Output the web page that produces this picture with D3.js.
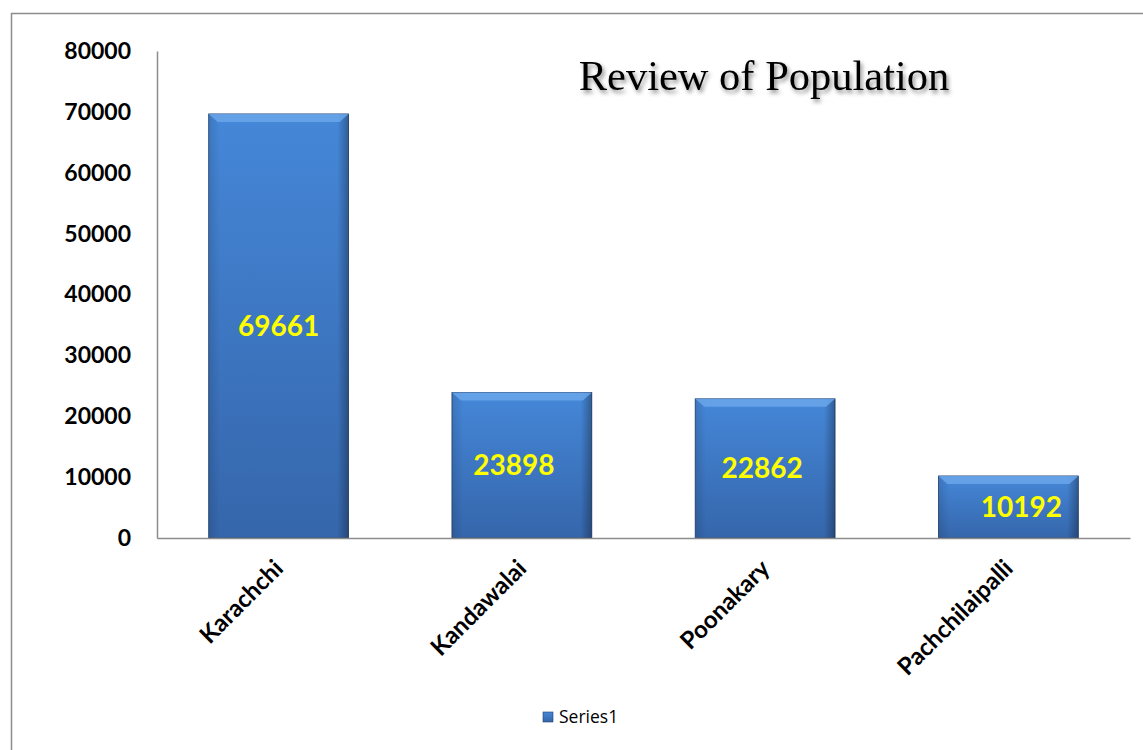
<!DOCTYPE html>
<html>
<head>
<meta charset="utf-8">
<script src="https://cdn.jsdelivr.net/npm/d3@7"></script>
<style>
  body { margin: 0; background: #fff; }
  .y.axis text, .x.axis text { font-family: Lato, "Open Sans", sans-serif; font-weight: bold; fill: #000; }
  .domain { stroke: #8c8c8c; }
</style>
</head>
<body>
<div id="chart"></div>
<script>
const categories = ['Karachchi', 'Kandawalai', 'Poonakary', 'Pachchilaipalli'];
const population = [69661, 23898, 22862, 10192];
const yTicks = [0, 10000, 20000, 30000, 40000, 50000, 60000, 70000, 80000];
const labelShift = [0, -8, -3, 13]; // data labels are not quite centred in the original

const W = 1143;
const H = 750;

const margin = { top: 51, right: 13, bottom: 212, left: 157 };
const w = W - margin.left - margin.right;
const h = H - margin.top - margin.bottom;

const svg = d3.select('#chart')
  .append('svg')
  .attr('width', W)
  .attr('height', H);

const defs = svg.append('defs');

const grad = defs.append('linearGradient')
  .attr('id', 'barFill')
  .attr('x1', 0).attr('y1', 0).attr('x2', 0).attr('y2', 1);
grad.append('stop').attr('offset', '0%').attr('stop-color', '#4587d8');
grad.append('stop').attr('offset', '100%').attr('stop-color', '#3566ab');

const side = defs.append('linearGradient')
  .attr('id', 'barSide')
  .attr('x1', 0).attr('y1', 0).attr('x2', 1).attr('y2', 0);
side.append('stop').attr('offset', '0%').attr('stop-color', '#000').attr('stop-opacity', 0.12);
side.append('stop').attr('offset', '8%').attr('stop-color', '#000').attr('stop-opacity', 0);
side.append('stop').attr('offset', '92%').attr('stop-color', '#000').attr('stop-opacity', 0);
side.append('stop').attr('offset', '100%').attr('stop-color', '#000').attr('stop-opacity', 0.3);

const shadow = defs.append('filter').attr('id', 'titleShadow')
  .attr('x', '-10%').attr('y', '-30%').attr('width', '120%').attr('height', '160%');
shadow.append('feDropShadow')
  .attr('dx', 2).attr('dy', 3).attr('stdDeviation', 2)
  .attr('flood-color', '#000').attr('flood-opacity', 0.45);

// outer chart border (runs off the right and bottom edges)
svg.append('rect')
  .attr('x', 11.5).attr('y', 13.5)
  .attr('width', W).attr('height', H)
  .attr('fill', 'none')
  .attr('stroke', '#8c8c8c')
  .attr('stroke-width', 1.5);

const g = svg.append('g')
  .attr('transform', `translate(${margin.left}, ${margin.top})`);

const xScale = d3.scaleBand()
  .domain(categories)
  .range([0, w])
  .paddingInner(0.425)
  .paddingOuter(0.2125);

const yScale = d3.scaleLinear()
  .domain([0, 80000])
  .range([h, 0]);

const yAxis = d3.axisLeft(yScale)
  .tickValues(yTicks)
  .tickFormat(d3.format('d'))
  .tickSize(0)
  .tickPadding(26);
g.append('g')
  .attr('class', 'y axis')
  .call(yAxis)
  .call((s) => s.select('.domain').attr('stroke-width', 1.5))
  .selectAll('text')
  .style('font-size', '23px');

// bars
const bars = g.selectAll('.bar')
  .data(population)
  .enter()
  .append('g')
  .attr('class', 'bar');

bars.append('rect')
  .attr('x', (d, i) => xScale(categories[i]))
  .attr('y', (d) => yScale(d))
  .attr('width', xScale.bandwidth())
  .attr('height', (d) => h - yScale(d))
  .attr('fill', 'url(#barFill)')
  .attr('stroke', '#23406b')
  .attr('stroke-width', 0.8);

bars.append('rect')
  .attr('x', (d, i) => xScale(categories[i]))
  .attr('y', (d) => yScale(d))
  .attr('width', xScale.bandwidth())
  .attr('height', (d) => h - yScale(d))
  .attr('fill', 'url(#barSide)');

// top bevel
bars.append('path')
  .attr('d', (d, i) => {
    const x0 = xScale(categories[i]);
    const x1 = x0 + xScale.bandwidth();
    const y0 = yScale(d);
    return `M${x0},${y0}L${x1},${y0}L${x1 - 9},${y0 + 8}L${x0 + 9},${y0 + 8}Z`;
  })
  .attr('fill', '#6aa6ea')
  .attr('opacity', 0.85);

// x axis
const xAxis = d3.axisBottom(xScale).tickSize(0).tickPadding(0);
const xg = g.append('g')
  .attr('class', 'x axis')
  .attr('transform', `translate(0, ${h})`)
  .call(xAxis);
xg.select('.domain').attr('stroke-width', 1.5);
xg.selectAll('text')
  .style('font-size', '24px')
  .attr('text-anchor', 'end')
  .attr('dy', 0)
  .attr('transform', 'translate(6, 32) rotate(-45)');

// data labels
bars.append('text')
  .attr('x', (d, i) => xScale(categories[i]) + xScale.bandwidth() / 2 + labelShift[i])
  .attr('y', (d) => (yScale(d) + h) / 2)
  .attr('dy', '0.36em')
  .attr('text-anchor', 'middle')
  .style('font-family', 'Lato, "Open Sans", sans-serif')
  .style('font-weight', 'bold')
  .style('font-size', '28px')
  .attr('fill', '#ffff00')
  .text((d) => d);

// title
svg.append('text')
  .attr('x', 764)
  .attr('y', 90)
  .attr('text-anchor', 'middle')
  .style('font-family', '"Liberation Serif", "Times New Roman", serif')
  .style('font-size', '42.5px')
  .attr('filter', 'url(#titleShadow)')
  .text('Review of Population');

// legend
const legend = svg.append('g').attr('transform', 'translate(543, 712)');
legend.append('rect')
  .attr('width', 10).attr('height', 10)
  .attr('fill', 'url(#barFill)')
  .attr('stroke', '#23406b').attr('stroke-width', 0.6);
legend.append('text')
  .attr('x', 16)
  .attr('y', 5)
  .attr('dy', '0.35em')
  .style('font-family', '"Open Sans", Lato, sans-serif')
  .style('font-size', '17.5px')
  .text('Series1');
</script>
</body>
</html>
